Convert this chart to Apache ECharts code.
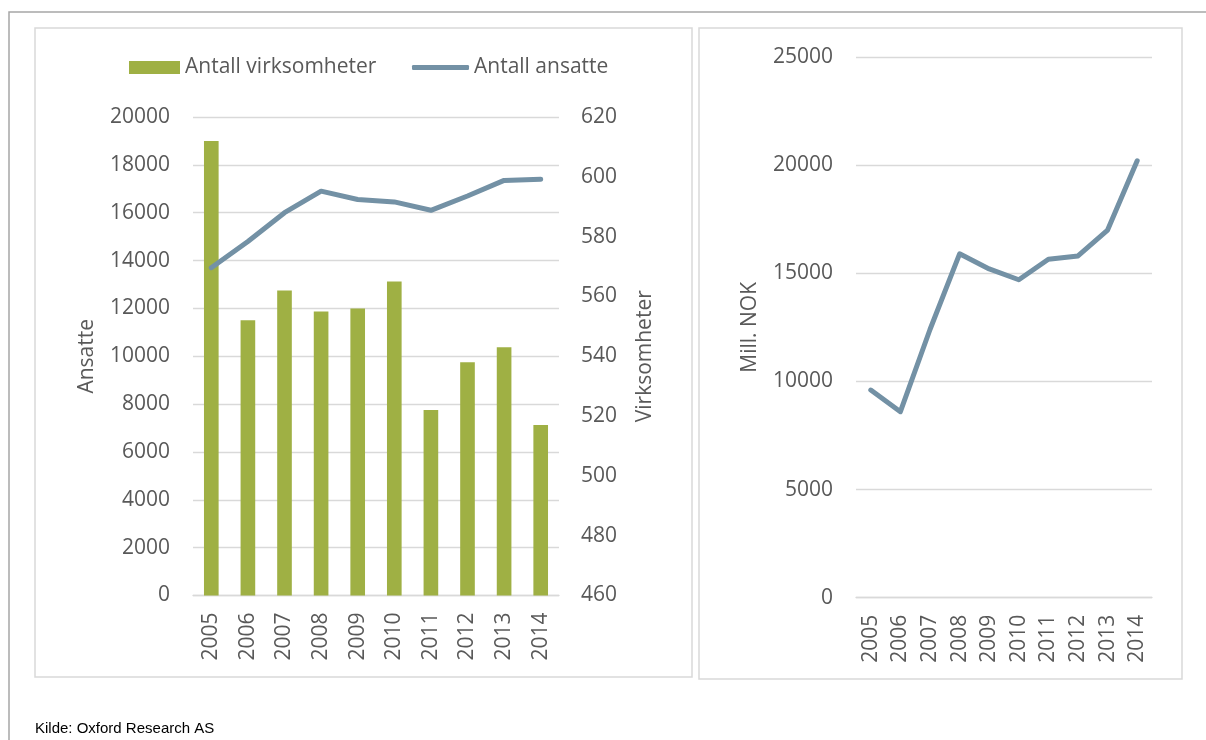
<!DOCTYPE html>
<html lang="no">
<head>
<meta charset="UTF-8">
<title>Virksomheter, ansatte og omsetning 2005-2014</title>
<script src="https://cdn.jsdelivr.net/npm/echarts/dist/echarts.min.js"></script>
<style>
  body { margin: 0; background: #fff; }
  #chart { width: 1206px; height: 740px; }
</style>
</head>
<body>
<div id="chart"></div>
<script>
  const years = ['2005', '2006', '2007', '2008', '2009', '2010', '2011', '2012', '2013', '2014'];
  // venstre figur
  const virksomheter = [612, 552, 562, 555, 556, 565, 522, 538, 543, 517];
  const ansatte = [13700, 14800, 16000, 16900, 16550, 16450, 16100, 16700, 17350, 17400];
  // høyre figur
  const millNok = [9600, 8600, 12400, 15900, 15200, 14700, 15650, 15800, 17000, 20200];

  const font = 'Open Sans';
  const grey = '#595959';
  const gridColor = '#d9d9d9';
  const green = '#9fb044';
  const blue = '#7391a5';

  const chart = echarts.init(document.getElementById('chart'));

  const labelStyle = { color: grey, fontFamily: font, fontSize: 21, margin: 23, formatter: v => String(v) };

  const valueAxis = (extra) => Object.assign({
    type: 'value',
    axisLine: { show: false },
    axisTick: { show: false },
    axisLabel: labelStyle,
    splitLine: { lineStyle: { color: gridColor, width: 1.3 } },
    nameLocation: 'middle',
    nameRotate: 90,
    nameTextStyle: { color: grey, fontFamily: font, fontSize: 21 }
  }, extra);

  const catAxis = (gridIndex) => ({
    type: 'category',
    gridIndex: gridIndex,
    data: years,
    boundaryGap: true,
    axisLine: { lineStyle: { color: gridColor, width: 1.3 } },
    axisTick: { show: false },
    axisLabel: { color: grey, fontFamily: font, fontSize: 21, rotate: 90, margin: 17, interval: 0 }
  });

  const legendText = { color: grey, fontFamily: font, fontSize: 21 };

  chart.setOption({
    animation: false,
    title: {
      text: 'Kilde: Oxford Research AS',
      left: 35,
      top: 721,
      padding: 0,
      textStyle: { fontFamily: 'Liberation Sans', fontSize: 15, fontWeight: 'normal', color: '#000' }
    },
    legend: [
      {
        data: [{ name: 'Antall virksomheter', icon: 'rect' }],
        left: 129, top: 57, padding: 0,
        itemWidth: 51, itemHeight: 13,
        textStyle: legendText
      },
      {
        data: [{ name: 'Antall ansatte', icon: 'roundRect' }],
        left: 412, top: 57, padding: 0,
        itemWidth: 57, itemHeight: 5,
        textStyle: legendText
      }
    ],
    graphic: [
      { type: 'polyline', shape: { points: [[9, 740], [9, 12], [1206, 12]] },
        style: { stroke: '#a6a6a6', lineWidth: 1.5, fill: null } },
      { type: 'rect', shape: { x: 35, y: 28, width: 657, height: 649 },
        style: { stroke: gridColor, lineWidth: 1.5, fill: null } },
      { type: 'rect', shape: { x: 699, y: 28, width: 483, height: 651 },
        style: { stroke: gridColor, lineWidth: 1.5, fill: null } }
    ],
    grid: [
      { left: 193, right: 647, top: 117, bottom: 144.5, outerBoundsMode: 'none' },
      { left: 856, right: 54, top: 57, bottom: 142.3, outerBoundsMode: 'none' }
    ],
    xAxis: [catAxis(0), catAxis(1)],
    yAxis: [
      valueAxis({ gridIndex: 0, min: 0, max: 20000, interval: 2000, name: 'Ansatte', nameGap: 95 }),
      valueAxis({ gridIndex: 0, min: 460, max: 620, interval: 20, position: 'right',
        name: 'Virksomheter', nameGap: 76, splitLine: { show: false },
        axisLabel: Object.assign({}, labelStyle, { margin: 22 }) }),
      valueAxis({ gridIndex: 1, min: 0, max: 25000, interval: 5000, name: 'Mill. NOK', nameGap: 95 })
    ],
    series: [
      {
        name: 'Antall virksomheter',
        type: 'bar',
        xAxisIndex: 0,
        yAxisIndex: 1,
        data: virksomheter,
        barWidth: '40%',
        itemStyle: { color: green }
      },
      {
        name: 'Antall ansatte',
        type: 'line',
        xAxisIndex: 0,
        yAxisIndex: 0,
        data: ansatte,
        symbol: 'none',
        itemStyle: { color: blue },
        lineStyle: { color: blue, width: 5, cap: 'round', join: 'round' }
      },
      {
        name: 'Mill. NOK',
        type: 'line',
        xAxisIndex: 1,
        yAxisIndex: 2,
        data: millNok,
        symbol: 'none',
        itemStyle: { color: blue },
        lineStyle: { color: blue, width: 5, cap: 'round', join: 'round' }
      }
    ]
  });
</script>
</body>
</html>
